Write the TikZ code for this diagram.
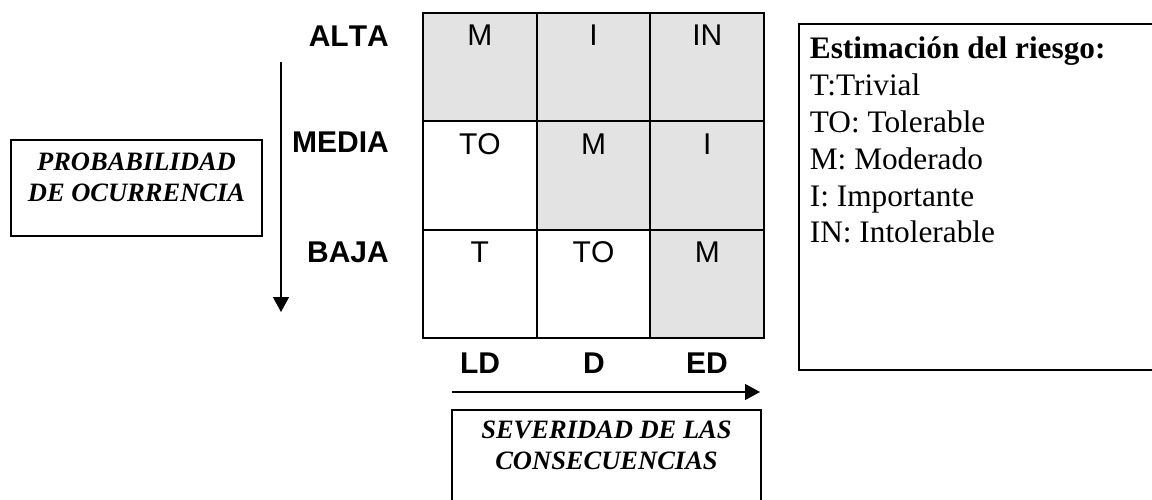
\documentclass[tikz,border=0pt]{standalone}
\usepackage{fontspec}
\setmainfont{Liberation Serif}
\setsansfont[Kerning=Off]{Liberation Sans}
\usetikzlibrary{arrows.meta}
\definecolor{cellgray}{RGB}{227,227,227}
\tikzstyle{cell} = [rectangle, draw=black, line width=2pt, outer sep=0pt, inner sep=0pt, minimum width=113.7pt, 
text height=33pt, text depth=75.3pt, font=\sffamily\fontsize{30}{36}\selectfont]
\tikzstyle{cellg} = [cell, fill=cellgray]
\tikzstyle{level} = [anchor=base east, inner sep=0pt, font=\sffamily\bfseries\fontsize{30}{36}\selectfont]
\tikzstyle{damage} = [anchor=base, inner sep=0pt, font=\sffamily\bfseries\fontsize{30}{36}\selectfont]
\tikzstyle{titlebox} = [rectangle, draw=black, line width=1.8pt, anchor=north, inner sep=0pt, 
font=\rmfamily\bfseries\itshape\fontsize{26.5}{31}\selectfont]
\tikzstyle{legendbox} = [rectangle, draw=black, line width=1.8pt, anchor=north west, inner xsep=11pt, inner ysep=0pt, 
font=\rmfamily\fontsize{31.3}{36.8}\selectfont]
\tikzstyle{arrow} = [line width=1.3pt, -{Triangle[length=15pt, width=16pt]}]

\begin{document}
\begin{tikzpicture}[x=1pt, y=-1pt, node distance=113.7pt]
    \useasboundingbox (0,0) rectangle (1152,500);

    \node(A1)[cellg] at (479.85,67.15){M};
    \node(A2)[cellg, right of=A1]{I};
    \node(A3)[cellg, right of=A2]{IN};

    \node(B1)[cell, below of=A1, yshift=5.4pt]{TO};
    \node(B2)[cellg, right of=B1]{M};
    \node(B3)[cellg, right of=B2]{I};

    \node(C1)[cell, below of=B1, yshift=5.4pt]{T};
    \node(C2)[cell, right of=C1]{TO};
    \node(C3)[cellg, right of=C2]{M};

    \node(Alta)[level] at (389,47){ALTA};
    \node(Media)[level] at (389,153){MEDIA};
    \node(Baja)[level] at (389,262){BAJA};

    \node(LD)[damage] at (480,373){LD};
    \node(D)[damage] at (594,373){D};
    \node(ED)[damage] at (707,373){ED};

    \coordinate(ProbTop) at (281,62);
    \coordinate(ProbEnd) at (281,312);
    \draw[arrow](ProbTop) -- (ProbEnd);

    \coordinate(SevStart) at (452,392);
    \coordinate(SevEnd) at (760,392);
    \draw[arrow](SevStart) -- (SevEnd);

    \node(Prob)[titlebox, text height=31pt, text depth=65pt] at (136.5,139){\parbox[t]{251pt}{\centering 
PROBABILIDAD\\DE OCURRENCIA}};

    \node(Sev)[titlebox, text height=29pt, text depth=85pt] at (606.5,409){\parbox[t]{309pt}{\centering 
SEVERIDAD DE LAS\\CONSECUENCIAS}};

    \node(Legend)[legendbox, text height=35pt, text depth=311pt] at (798,23){\parbox[t]{345pt}{
\textbf{Estimación del riesgo:}\\T:Trivial\\TO: Tolerable\\M: Moderado\\I: Importante\\IN: Intolerable}};

\end{tikzpicture}
\end{document}
